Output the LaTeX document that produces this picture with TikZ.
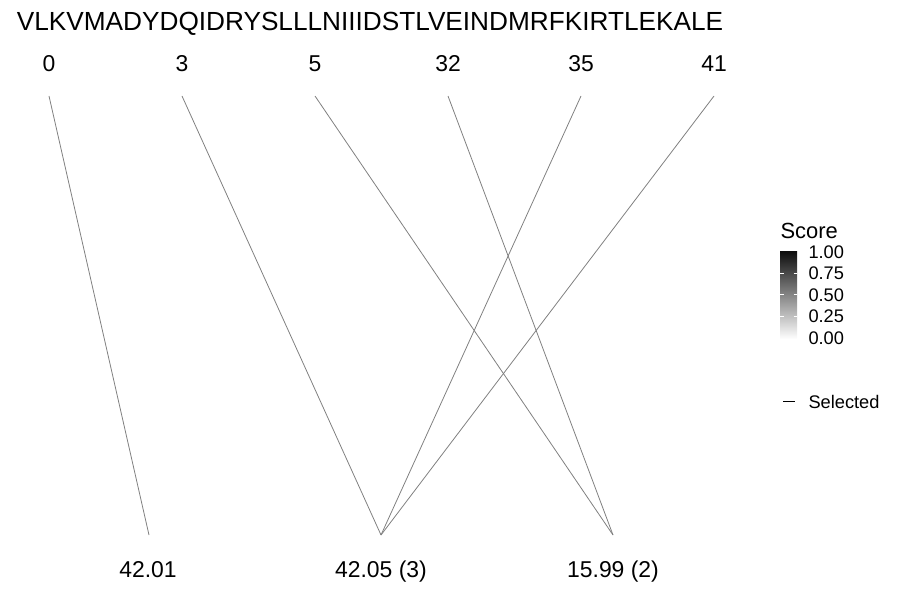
\documentclass[tikz,border=0pt]{standalone}
\usepackage{fontspec}
\setmainfont{Liberation Sans}
\begin{document}
\begin{tikzpicture}[x=1bp,y=-1bp]

        \useasboundingbox (0,0) rectangle (900,600);

        \node[anchor=base] (seq) at (370,31) {\fontsize{26.3}{28}\selectfont VLKVMADYDQIDRYSLLLNIIIDSTLVEINDMRFKIRTLEKALE};

        \begin{scope}[every node/.style={anchor=base, font=\fontsize{23}{25}\selectfont}]
          \node (0)  at (49,72)  {0};
          \node (3)  at (182,72) {3};
          \node (5)  at (315,72) {5};
          \node (32) at (448,72) {32};
          \node (35) at (581,72) {35};
          \node (41) at (714,72) {41};
          \node (m1) at (148,577) {42.01};
          \node (m2) at (381,577) {42.05 (3)};
          \node (m3) at (613,577) {15.99 (2)};
        \end{scope}

        \coordinate (t0)  at (49,96);
        \coordinate (t3)  at (182,96);
        \coordinate (t5)  at (315,96);
        \coordinate (t32) at (448,96);
        \coordinate (t35) at (581,96);
        \coordinate (t41) at (714,96);
        \coordinate (b1)  at (149,535);
        \coordinate (b2)  at (381,535);
        \coordinate (b3)  at (613,535);

        \begin{scope}[every path/.style={draw=black!50, line width=0.8bp}]
          \path (t0)  -- (b1);
          \path (t3)  -- (b2);
          \path (t5)  -- (b3);
          \path (t32) -- (b3);
          \path (t35) -- (b2);
          \path (t41) -- (b2);
        \end{scope}

        % legend
        \node[anchor=west, font=\fontsize{22}{24}\selectfont] (score) at (777,231) {Score};
        \shade[top color=black!95, bottom color=white] (780,251) rectangle (797,339);
        \foreach \y in {273,294.5,316} {
          \draw[white, line width=0.8bp] (780,\y) -- (783.5,\y);
          \draw[white, line width=0.8bp] (793.5,\y) -- (797,\y);
        }
        \begin{scope}[every node/.style={anchor=west, font=\fontsize{18.3}{20}\selectfont}]
          \node (l100) at (805,252)   {1.00};
          \node (l075) at (805,273.5) {0.75};
          \node (l050) at (805,295)   {0.50};
          \node (l025) at (805,316.5) {0.25};
          \node (l000) at (805,338)   {0.00};
          \node (sel)  at (805,402)   {Selected};
        \end{scope}
        \coordinate (s1) at (783,401.5);
        \coordinate (s2) at (795,401.5);
        \draw[line width=0.9bp] (s1) -- (s2);

      \end{tikzpicture}
\end{document}
